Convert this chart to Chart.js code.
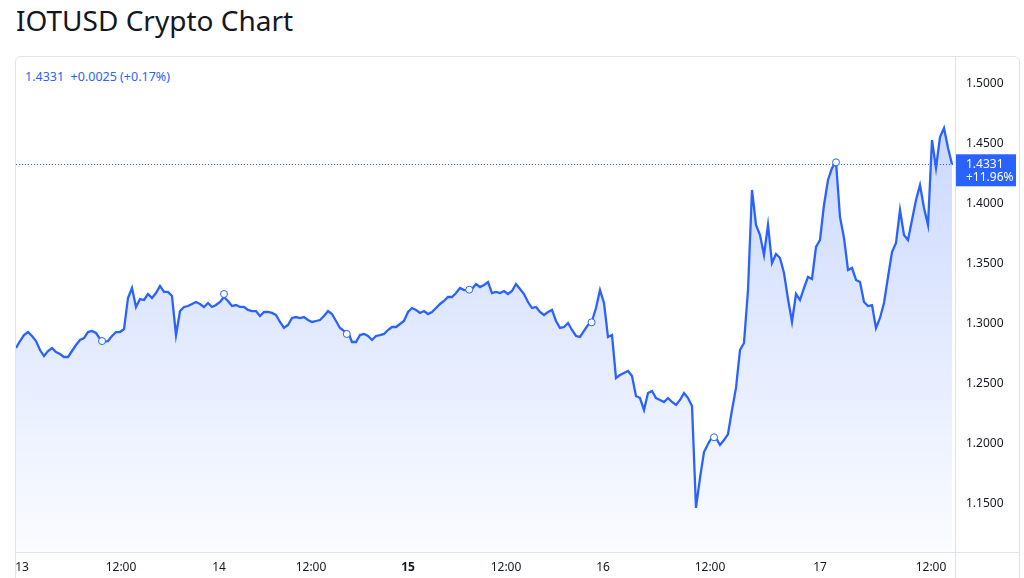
<!DOCTYPE html>
<html>
<head>
<meta charset="utf-8">
<title>IOTUSD Crypto Chart</title>
<script src="https://cdn.jsdelivr.net/npm/chart.js@4.4.1/dist/chart.umd.min.js"></script>
<style>
  html, body { margin: 0; padding: 0; background: #fff; overflow: hidden; }
  body { width: 1024px; height: 578px; position: relative; font-family: "Noto Sans", sans-serif; }
  h1 { position: absolute; left: 16px; top: 0; margin: 0; font-weight: 400; font-size: 28px; line-height: 40px; color: #131722; }
  .card { position: absolute; left: 15px; top: 56px; width: 1003px; height: 560px; border: 1px solid #e0e3eb; border-radius: 6px; }
  .legend { position: absolute; left: 25px; top: 68px; font-size: 12.5px; color: #2962ff; white-space: pre; }
  canvas { position: absolute; left: 0; top: 0; }
</style>
</head>
<body>
<h1>IOTUSD Crypto Chart</h1>
<div class="card"></div>
<div class="legend">1.4331  +0.0025 (+0.17%)</div>
<canvas id="chart" width="1024" height="578"></canvas>
<script>
// one value per 30-minute bar
const prices = [
  1.2800, 1.2858, 1.2908, 1.2933, 1.2900, 1.2858, 1.2783, 1.2733, 1.2775, 1.2800,
  1.2767, 1.2750, 1.2725, 1.2725, 1.2775, 1.2825, 1.2867, 1.2883, 1.2933, 1.2942,
  1.2925, 1.2875, 1.2850, 1.2858, 1.2900, 1.2933, 1.2933, 1.2958, 1.3217, 1.3300,
  1.3142, 1.3208, 1.3200, 1.3250, 1.3217, 1.3258, 1.3317, 1.3267, 1.3267, 1.3233,
  1.2908, 1.3108, 1.3142, 1.3150, 1.3167, 1.3183, 1.3167, 1.3142, 1.3175, 1.3142,
  1.3158, 1.3183, 1.3225, 1.3192, 1.3150, 1.3158, 1.3142, 1.3142, 1.3117, 1.3108,
  1.3108, 1.3067, 1.3100, 1.3100, 1.3092, 1.3075, 1.3017, 1.2967, 1.2992, 1.3050,
  1.3058, 1.3050, 1.3058, 1.3033, 1.3017, 1.3025, 1.3033, 1.3067, 1.3108, 1.3083,
  1.3025, 1.2967, 1.2942, 1.2933, 1.2850, 1.2850, 1.2908, 1.2917, 1.2900, 1.2867,
  1.2900, 1.2908, 1.2917, 1.2950, 1.2975, 1.2975, 1.3000, 1.3025, 1.3100, 1.3133,
  1.3117, 1.3092, 1.3108, 1.3083, 1.3100, 1.3133, 1.3167, 1.3192, 1.3225, 1.3225,
  1.3258, 1.3300, 1.3283, 1.3283, 1.3292, 1.3333, 1.3308, 1.3325, 1.3350, 1.3258,
  1.3267, 1.3258, 1.3275, 1.3250, 1.3275, 1.3333, 1.3292, 1.3250, 1.3183, 1.3133,
  1.3142, 1.3100, 1.3075, 1.3100, 1.3117, 1.3025, 1.2967, 1.2975, 1.3008, 1.2950,
  1.2900, 1.2892, 1.2942, 1.2992, 1.3025, 1.3133, 1.3283, 1.3175, 1.2892, 1.2908,
  1.2550, 1.2575, 1.2592, 1.2608, 1.2567, 1.2400, 1.2383, 1.2283, 1.2425, 1.2442,
  1.2383, 1.2367, 1.2350, 1.2383, 1.2350, 1.2325, 1.2367, 1.2425, 1.2383, 1.2317,
  1.1467, 1.1717, 1.1933, 1.2000, 1.2058, 1.2050, 1.1992, 1.2033, 1.2083, 1.2283,
  1.2467, 1.2783, 1.2842, 1.3283, 1.4117, 1.3825, 1.3742, 1.3575, 1.3825, 1.3508,
  1.3583, 1.3550, 1.3425, 1.3208, 1.3017, 1.3250, 1.3200, 1.3300, 1.3392, 1.3375,
  1.3642, 1.3700, 1.3992, 1.4200, 1.4300, 1.4350, 1.3892, 1.3717, 1.3450, 1.3467,
  1.3367, 1.3350, 1.3183, 1.3150, 1.3158, 1.2967, 1.3050, 1.3175, 1.3392, 1.3600,
  1.3675, 1.3950, 1.3742, 1.3700, 1.3867, 1.4033, 1.4158, 1.3967, 1.3825, 1.4533,
  1.4300, 1.4558, 1.4633, 1.4467, 1.4331
];

// small event circles on the line (bar index, price)
const markerBars = [21.5, 52, 82.7, 113.3, 143.9, 174.5, 205];
const markerPrices = [1.2858, 1.3250, 1.2917, 1.3286, 1.3014, 1.2056, 1.4347];

// time axis labels sit at these bar positions
const timeTickBars = [1.5, 26.25, 50.75, 73.75, 98, 122.5, 146.75, 173.5, 201, 228.75];
const timeTickLabels = ['13', '12:00', '14', '12:00', '15', '12:00', '16', '12:00', '17', '12:00'];

const priceTicks = [1.15, 1.20, 1.25, 1.30, 1.35, 1.40, 1.45, 1.50];

const lastPrice = prices[prices.length - 1];
const changeLabel = '+11.96%';

const blue = '#2962ff';
const borderGrey = '#e0e3eb';
const textColor = '#131722';

Chart.defaults.font.family = '"Noto Sans", sans-serif';
Chart.defaults.font.size = 12;

const priceLine = {
  id: 'priceLine',
  beforeDatasetsDraw(chart) {
    const { ctx, chartArea, scales } = chart;
    const y = Math.round(scales.y.getPixelForValue(lastPrice)) + 0.5;
    ctx.save();
    ctx.strokeStyle = blue;
    ctx.lineWidth = 1;
    ctx.setLineDash([1, 2]);
    ctx.beginPath();
    ctx.moveTo(chartArea.left, y);
    ctx.lineTo(chartArea.right, y);
    ctx.stroke();
    ctx.restore();
  },
  afterDraw(chart) {
    const { ctx, chartArea, scales } = chart;
    const y = scales.y.getPixelForValue(lastPrice);
    ctx.save();
    // pane separators
    ctx.strokeStyle = borderGrey;
    ctx.lineWidth = 1;
    ctx.beginPath();
    ctx.moveTo(chartArea.right + 0.5, 57);
    ctx.lineTo(chartArea.right + 0.5, 578);
    ctx.moveTo(16, chartArea.bottom + 0.5);
    ctx.lineTo(1019, chartArea.bottom + 0.5);
    ctx.stroke();
    // last price badge
    ctx.fillStyle = blue;
    ctx.fillRect(chartArea.right + 1, y - 10, 60, 32);
    ctx.fillStyle = '#fff';
    ctx.font = '12px "Noto Sans", sans-serif';
    ctx.textAlign = 'left';
    ctx.textBaseline = 'middle';
    ctx.fillText(lastPrice.toFixed(4), chartArea.right + 11, y);
    ctx.fillText(changeLabel, chartArea.right + 11, y + 13.5);
    ctx.restore();
  }
};

new Chart(document.getElementById('chart'), {
  type: 'line',
  data: {
    datasets: [
      {
        label: 'events',
        order: 0,
        data: markerBars.map((b, i) => ({ x: b, y: markerPrices[i] })),
        showLine: false,
        pointRadius: 3.5,
        pointBorderWidth: 1,
        pointBackgroundColor: '#fff',
        pointBorderColor: blue
      },
      {
        label: 'IOTUSD',
        order: 1,
        data: prices.map((p, i) => ({ x: i, y: p })),
        borderColor: blue,
        borderWidth: 2.3,
        pointRadius: 0,
        tension: 0,
        fill: 'start',
        backgroundColor(c) {
          const a = c.chart.chartArea;
          if (!a) return 'rgba(41, 98, 255, 0.1)';
          const g = c.chart.ctx.createLinearGradient(0, a.top, 0, a.bottom);
          g.addColorStop(0, 'rgba(41, 98, 255, 0.28)');
          g.addColorStop(1, 'rgba(41, 98, 255, 0.02)');
          return g;
        }
      }
    ]
  },
  options: {
    responsive: false,
    animation: false,
    devicePixelRatio: 1,
    layout: { padding: { left: 16, top: 57, right: 5, bottom: 0 } },
    plugins: {
      legend: { display: false },
      tooltip: { enabled: false }
    },
    scales: {
      x: {
        type: 'linear',
        min: 0,
        max: 234.75,
        grid: { display: false, drawTicks: false },
        border: { display: false },
        afterBuildTicks(s) { s.ticks = timeTickBars.map(v => ({ value: v })); },
        afterFit(s) { s.height = 26; },
        ticks: {
          autoSkip: false,
          maxRotation: 0,
          padding: 8,
          color: textColor,
          font: c => ({ size: 12, weight: timeTickLabels[c.index] === '15' ? 'bold' : 'normal' }),
          callback: (v, i) => timeTickLabels[i]
        }
      },
      y: {
        position: 'right',
        min: 1.11,
        max: 1.5225,
        grid: { display: false, drawTicks: false },
        border: { display: false },
        afterBuildTicks(s) { s.ticks = priceTicks.map(v => ({ value: v })); },
        afterFit(s) { s.width = 64; },
        ticks: {
          autoSkip: false,
          padding: 11,
          color: textColor,
          callback: v => v.toFixed(4)
        }
      }
    }
  },
  plugins: [priceLine]
});
</script>
</body>
</html>
